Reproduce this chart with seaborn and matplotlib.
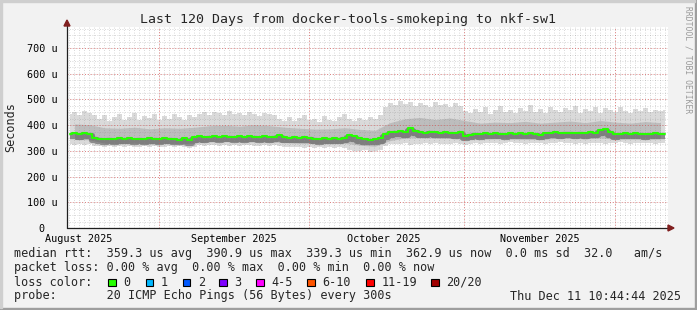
import numpy as np
import pandas as pd
import matplotlib
matplotlib.use("Agg")
import matplotlib.pyplot as plt
import matplotlib.transforms as mtransforms
from matplotlib.patches import Rectangle, Polygon
import seaborn as sns

# ---------------- data ----------------
title = "Last 120 Days from docker-tools-smokeping to nkf-sw1"
start_time = "2025-08-13 16:00"
end_time = "2025-12-11 16:00"

# daily median RTT (microseconds)
median_rtt = [366, 368, 364, 369, 367, 352,
              347, 345, 348, 346, 349, 347, 350, 346, 348, 345, 349, 347, 346, 350, 348, 346, 344, 349,
              342,
              354, 356, 353, 355, 357, 354, 356, 355, 353, 356, 354, 357, 355, 353, 356, 354, 355,
              361, 354, 352, 353, 351, 354, 352,
              348, 346, 349, 347, 350, 348, 351,
              360, 357,
              349, 345, 344, 346, 350,
              365, 372,
              374, 376, 373,
              388, 378,
              373, 371, 374, 372, 370, 373, 371, 369, 372,
              358, 362,
              367, 365, 368, 366, 369, 367, 365, 368, 367, 369, 366, 368, 367,
              362,
              368, 370, 372, 369, 371, 370, 368, 371, 369, 372, 370,
              380, 384, 372, 364, 366,
              368, 366, 369, 367, 365, 367, 368, 366, 367]

# daily smoke envelope (slowest / fastest ping)
smoke_max = [445, 450, 440, 455, 448, 438,
             425, 440, 418, 432, 445, 422, 430, 448, 420, 435, 428, 442, 419, 437, 426, 444, 430, 421, 438, 433,
             445, 450, 440, 452, 446, 438, 455, 443, 448, 440, 451, 445, 437, 449, 444, 441,
             425, 418, 432, 415, 428, 440, 420, 426, 412, 435, 422, 418, 430, 445, 424, 416, 428, 420, 432, 425,
             440, 470, 485, 478, 495, 482, 490, 475, 488, 480, 470, 492, 478, 484, 472, 488, 476,
             455, 448, 462, 450, 470, 445, 458, 475, 452, 460, 448, 466, 455, 480, 450, 462, 446, 470, 458, 452,
             468, 460, 476, 449, 462, 455, 470, 448, 465, 458, 450, 472, 456, 446, 462, 455, 468, 450, 460, 454, 458]
smoke_min = [325, 322, 328, 324, 326, 320,
             318, 315, 320, 316, 318, 314, 319, 317, 315, 320, 316, 318, 314, 317, 319, 315, 318, 316, 313, 315,
             322, 320, 324, 321, 319, 323, 320, 322, 318, 321, 323, 320, 319, 322, 320, 321,
             318, 315, 317, 314, 316, 312, 315, 313, 316, 312, 314, 311, 315, 312, 305, 300, 298, 302, 296, 300,
             305, 318, 325, 328, 326, 330, 324, 328, 326, 329, 327, 330, 326, 328, 325, 329, 327,
             322, 325, 330, 328, 332, 329, 331, 327, 330, 333, 329, 331, 328, 330, 332, 329, 327, 331, 330, 333,
             329, 331, 328, 330, 326, 329, 332, 330, 328, 331, 329, 333, 330, 328, 331, 329, 330, 332, 328, 330, 331]

# inner smoke band, one value every 3 days
smoke_p90 = [405, 402, 390, 388, 392, 386, 390, 388, 392, 398, 400, 396, 402, 398, 392, 388, 385, 386, 390, 384,
             380, 410, 425, 430, 422, 428, 418, 408, 412, 410, 415, 408, 412, 416, 410, 418, 412, 408, 414, 410]
smoke_p10 = [345, 343, 330, 328, 330, 327, 329, 328, 330, 336, 337, 335, 336, 334, 333, 330, 329, 328, 330, 322,
             318, 340, 350, 352, 350, 349, 345, 346, 348, 347, 346, 345, 348, 349, 347, 350, 346, 347, 346, 347]

y_ticks = [0, 100, 200, 300, 400, 500, 600, 700]
y_tick_labels = ["0  ", "100 u", "200 u", "300 u", "400 u", "500 u", "600 u", "700 u"]
month_labels = ["August 2025", "September 2025", "October 2025", "November 2025"]
month_label_dates = ["2025-08-16", "2025-09-16", "2025-10-16", "2025-11-16"]
month_starts = ["2025-09-01", "2025-10-01", "2025-11-01", "2025-12-01"]

loss_labels = ["0", "1", "2", "3", "4-5", "6-10", "11-19", "20/20"]
loss_colors = ["#26ff00", "#00b8ff", "#0059ff", "#7e00ff", "#ff00ff", "#ff5500", "#ff0000", "#a10000"]

stat_line1 = "median rtt:  359.3 us avg  390.9 us max  339.3 us min  362.9 us now  0.0 ms sd  32.0   am/s"
stat_line2 = "packet loss: 0.00 % avg  0.00 % max  0.00 % min  0.00 % now"
stat_line3 = "loss color:"
stat_line4 = "probe:       20 ICMP Echo Pings (56 Bytes) every 300s"
stamp = "Thu Dec 11 10:44:44 2025"

# ---------------- figure ----------------
sns.set_theme(style="white")
plt.rcParams["font.family"] = ["DejaVu Sans Mono", "DejaVu Sans"]

W, H = 697, 310
fig = plt.figure(figsize=(W / 100, H / 100), dpi=100, facecolor="#f2f2f2")

def fx(x):
    return x / W

def fy(y):
    return 1 - y / H

ax = fig.add_axes([fx(67), fy(228), (668 - 67) / W, (228 - 27) / H])
ax.set_facecolor("white")

days = pd.date_range("2025-08-13 16:00", periods=len(median_rtt), freq="D") + pd.Timedelta(hours=12)
days3 = pd.date_range("2025-08-13 16:00", periods=len(smoke_p90), freq="3D") + pd.Timedelta(hours=36)
df = pd.DataFrame({"time": days, "median": median_rtt, "lo": smoke_min, "hi": smoke_max})
df3 = pd.DataFrame({"time": days3, "p10": smoke_p10, "p90": smoke_p90})

# smoke
ax.fill_between(df["time"], df["lo"], df["hi"], step="mid", color="#dadada", lw=0, zorder=1)
ax.fill_between(df3["time"], df3["p10"], df3["p90"], color="#bdbdbd", lw=0, zorder=1.2)
core_tr = ax.transData + mtransforms.ScaledTranslation(0, -2.5 / 100, fig.dpi_scale_trans)
ax.plot(df["time"], df["median"], color="#404040", lw=4.5, alpha=0.5, drawstyle="steps-mid",
        transform=core_tr, zorder=1.5, solid_capstyle="butt")
sns.lineplot(data=df, x="time", y="median", color="#26ff00", lw=1.5, drawstyle="steps-mid",
             estimator=None, ax=ax, zorder=4)

ax.set_xlim(pd.Timestamp(start_time), pd.Timestamp(end_time))
ax.set_ylim(0, 782)

# grid (drawn on top like rrdtool)
grid_days = pd.date_range("2025-08-14", "2025-12-11", freq="D")
ax.vlines(grid_days, 0, 782, colors="#8f8f8f", lw=0.6, linestyles=(0, (1, 2)), alpha=0.45, zorder=3)
ax.hlines(np.arange(25, 782, 25), pd.Timestamp(start_time), pd.Timestamp(end_time),
          colors="#8f8f8f", lw=0.6, linestyles=(0, (1, 2)), alpha=0.45, zorder=3)
ax.vlines(pd.to_datetime(month_starts), 0, 782, colors="#de4f4f", lw=0.7, linestyles=(0, (1, 2)),
          alpha=0.65, zorder=3.1)
ax.hlines(y_ticks[1:], pd.Timestamp(start_time), pd.Timestamp(end_time),
          colors="#de4f4f", lw=0.7, linestyles=(0, (1, 2)), alpha=0.65, zorder=3.1)

ax.set_yticks(y_ticks)
ax.set_yticklabels(y_tick_labels)
ax.set_xticks(pd.to_datetime(month_label_dates))
ax.set_xticklabels(month_labels)
ax.tick_params(axis="y", length=0, pad=7, labelsize=7.3, colors="black")
ax.tick_params(axis="x", length=0, pad=4.5, labelsize=7.3, colors="black")
ax.set_xlabel("")
ax.set_ylabel("Seconds", fontsize=8.5, va="center")
ax.yaxis.set_label_coords(-(67 - 11) / 601, 0.5)
for s in ax.spines.values():
    s.set_visible(False)

# axes with arrows
ax.plot([0, 0], [0, 1 + 3 / 201], transform=ax.transAxes, color="#1f1f1f", lw=0.9, clip_on=False, zorder=5)
ax.plot([0, 1 + 1 / 601], [0, 0], transform=ax.transAxes, color="#1f1f1f", lw=0.9, clip_on=False, zorder=5)
fig.add_artist(Polygon([[fx(64), fy(26)], [fx(70), fy(26)], [fx(67), fy(20)]], closed=True,
                       transform=fig.transFigure, color="#801f1f"))
fig.add_artist(Polygon([[fx(668), fy(225)], [fx(668), fy(231)], [fx(674), fy(228)]], closed=True,
                       transform=fig.transFigure, color="#801f1f"))

# title & side text
fig.text(fx(348), fy(19), title, ha="center", va="center", fontsize=9.5)
fig.text(fx(688), fy(6), "RRDTOOL / TOBI OETIKER", rotation=270, ha="center", va="top",
         fontsize=5.8, color="#9a9a9a")

# legend / statistics
tx = 14.5
fig.text(fx(tx), fy(254), stat_line1, ha="left", va="center", fontsize=8.5)
fig.text(fx(tx), fy(268), stat_line2, ha="left", va="center", fontsize=8.5)
fig.text(fx(tx), fy(282), stat_line3, ha="left", va="center", fontsize=8.5)
fig.text(fx(tx), fy(296), stat_line4, ha="left", va="center", fontsize=8.5)
fig.text(fx(681), fy(296), stamp, ha="right", va="center", fontsize=8.5)

box_x = [108, 145.5, 182.5, 219, 256, 307, 366, 431]
for bx, lab, col in zip(box_x, loss_labels, loss_colors):
    fig.add_artist(Rectangle((fx(bx), fy(286)), 7.5 / W, 7.5 / H, transform=fig.transFigure,
                             facecolor=col, edgecolor="black", lw=0.8))
    fig.text(fx(bx + 15.5), fy(282), lab, ha="left", va="center", fontsize=8.5)

# rrdtool-style shaded frame
fig.add_artist(Rectangle((0, 0), 1, 2 / H, transform=fig.transFigure, color="#9e9e9e", zorder=10))
fig.add_artist(Rectangle((1 - 2 / W, 0), 2 / W, 1, transform=fig.transFigure, color="#9e9e9e", zorder=10))
fig.add_artist(Rectangle((0, 1 - 2 / H), 1 - 2 / W, 2 / H, transform=fig.transFigure, color="#cfcfcf", zorder=10))
fig.add_artist(Rectangle((0, 2 / H), 2 / W, 1 - 4 / H, transform=fig.transFigure, color="#cfcfcf", zorder=10))

fig.savefig("out.png", dpi=100, facecolor=fig.get_facecolor())
